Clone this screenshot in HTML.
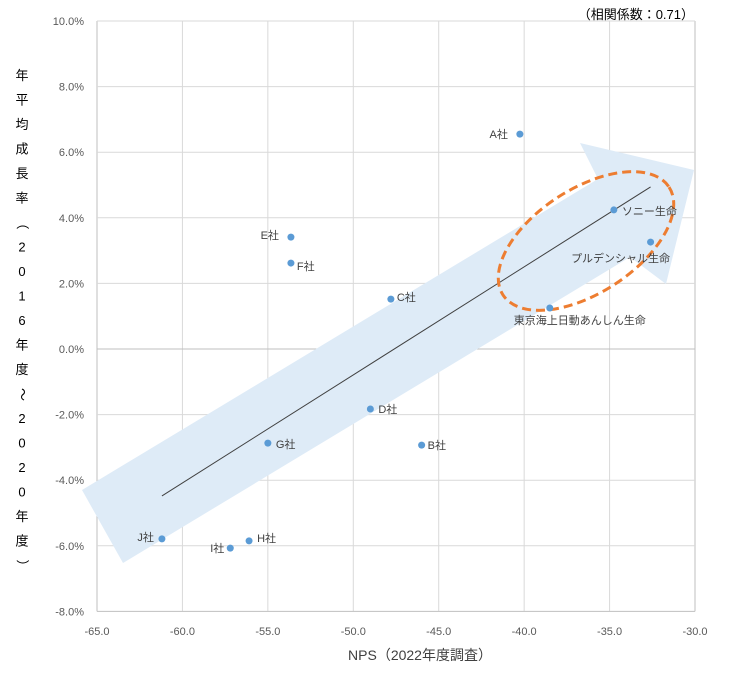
<!DOCTYPE html>
<html><head><meta charset="utf-8"><style>
body{margin:0;background:#fff;font-family:"Liberation Sans","Noto Sans CJK JP",sans-serif}
svg text{font-family:"Liberation Sans","Noto Sans CJK JP",sans-serif}
</style></head><body>
<svg id="c" width="734" height="674" xmlns="http://www.w3.org/2000/svg">
<g id="grid"></g>
<polygon fill="#deebf7" points="82,490 598,179 580,143 694,170 666,284 630,257 123,563"/>
<g id="axes"></g>
<line id="trend" stroke="#404040" stroke-width="1"/>
<ellipse cx="586" cy="241" rx="99" ry="52" transform="rotate(-33 586 241)" fill="none" stroke="#ed7d31" stroke-width="3" stroke-dasharray="9,5"/>
<g id="pts"></g>
<text x="694" y="19" text-anchor="end" font-size="13" fill="#000">（相関係数：0.71）</text>
<text x="420" y="660" text-anchor="middle" font-size="14" fill="#404040">NPS（2022年度調査）</text>
<g id="ytitle"></g>
</svg>
<script>
const xTicks=[-65,-60,-55,-50,-45,-40,-35,-30];
const yTicks=[10,8,6,4,2,0,-2,-4,-6,-8];
const names=["A社","ソニー生命","プルデンシャル生命","東京海上日動あんしん生命","C社","E社","F社","D社","B社","G社","H社","I社","J社"];
const npsVals=[-40.25,-34.75,-32.6,-38.5,-47.8,-53.65,-53.65,-49.0,-46.0,-55.0,-56.1,-57.2,-61.2];
const growthVals=[6.55,4.24,3.26,1.25,1.52,3.41,2.62,-1.83,-2.93,-2.87,-5.85,-6.07,-5.79];
const trendSlope=0.3294, trendIntercept=15.68, trendX=[-61.2,-32.6];
const X=v=>97+(v+65)*(598/35);
const Y=v=>349-v*32.8;
const NS="http://www.w3.org/2000/svg";
function mk(tag,parent,attrs){const e=document.createElementNS(NS,tag);for(const k in attrs)e.setAttribute(k,attrs[k]);document.getElementById(parent).appendChild(e);return e;}
xTicks.forEach(t=>{const l=mk('line','grid',{x1:X(t),x2:X(t),y1:Y(10),y2:Y(-8),stroke:t===-65||t===-30?'#bfbfbf':'#d9d9d9'});


const tx=mk('text','axes',{x:X(t),y:635,'text-anchor':'middle','font-size':11,fill:'#595959'});tx.textContent=t.toFixed(1);

});
yTicks.forEach(t=>{const l=mk('line','grid',{x1:X(-65),x2:X(-30),y1:Y(t),y2:Y(t),stroke:t===0||t===-8?'#bfbfbf':'#d9d9d9'});


const tx=mk('text','axes',{x:84,y:Y(t)+4,'text-anchor':'end','font-size':11,fill:'#595959'});tx.textContent=t.toFixed(1)+'%';

});
const tr=document.getElementById('trend');
tr.setAttribute('x1',X(trendX[0]));tr.setAttribute('y1',Y(trendIntercept+trendSlope*trendX[0]));
tr.setAttribute('x2',X(trendX[1]));tr.setAttribute('y2',Y(trendIntercept+trendSlope*trendX[1]));
const lo=[[-12,4,'end'],[8,5,'start'],[-30,20,'middle'],[30,16,'middle'],[6,2,'start'],[-12,2,'end'],[6,7,'start'],[8,4,'start'],[6,4,'start'],[8,5,'start'],[8,1,'start'],[-6,4,'end'],[-8,2,'end']];
names.forEach((n,i)=>{const c=mk('circle','pts',{cx:X(npsVals[i]),cy:Y(growthVals[i]),r:3.5,fill:'#5b9bd5'});


const t=mk('text','pts',{x:X(npsVals[i])+lo[i][0],y:Y(growthVals[i])+lo[i][1],'text-anchor':lo[i][2],'font-size':11,fill:'#404040'});t.textContent=n;

});
const yt="年平均成長率（2016年度～2020年度）".split('');
yt.forEach((ch,i)=>{const t=mk('text','ytitle',{x:22,y:80+i*24.5,'text-anchor':'middle','font-size':13,fill:'#000'});t.textContent=ch;
if(ch==='（'||ch==='）'||ch==='～')t.setAttribute('transform','rotate(90 22 '+(76+i*24.5)+')');});
</script>
</body></html>
